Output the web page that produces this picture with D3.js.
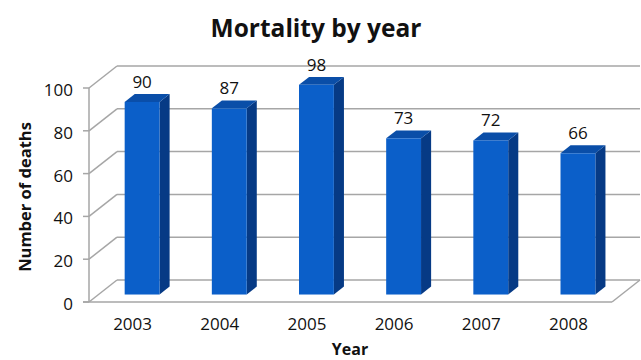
<!DOCTYPE html>
<html>
<head>
<meta charset="utf-8">
<script src="https://cdn.jsdelivr.net/npm/d3@7"></script>
<style>
  html, body { margin: 0; padding: 0; background: #fff; }
  svg { display: block; font-family: "Open Sans", "Noto Sans", sans-serif; }
</style>
</head>
<body>
<svg id="chart" width="641" height="360"></svg>
<script>
// Deaths recorded per year
const years = ["2003", "2004", "2005", "2006", "2007", "2008"];
const deaths = [90, 87, 98, 73, 72, 66];
const yTicks = [0, 20, 40, 60, 80, 100];

const svg = d3.select("#chart");

// Front plane of the 3-D box and the depth vector toward the back wall
const front = { left: 89, right: 612, top: 88, bottom: 302 };
const depth = { dx: 28, dy: -22 };
const barDepth = [0.34, 0.70];   // bar slab position within the box depth

const x = d3.scaleBand().domain(years).range([front.left, front.right]);
const y = d3.scaleLinear().domain([0, 100]).range([front.bottom, front.top]);
const proj = (px, py, d) => [px + d * depth.dx, py + d * depth.dy];

const grid = "#a6a6a6";
const walls = svg.append("g").attr("fill", "none").attr("stroke", grid).attr("stroke-width", 1.5);

// Side wall diagonals and back wall gridlines
yTicks.forEach(t => {
  const [bx, by] = proj(front.left, y(t), 1);
  walls.append("line").attr("x1", front.left).attr("y1", y(t)).attr("x2", bx).attr("y2", by);
  walls.append("line").attr("x1", bx).attr("y1", by).attr("x2", front.right + depth.dx).attr("y2", by);
  // tick mark on the front axis
  walls.append("line").attr("x1", front.left - 6).attr("y1", y(t)).attr("x2", front.left).attr("y2", y(t));
});
// Front vertical axis
walls.append("line").attr("x1", front.left).attr("y1", y(100)).attr("x2", front.left).attr("y2", y(0));
// Floor outline
{
  const [rx, ry] = proj(front.right, y(0), 1);
  walls.append("line").attr("x1", front.left - 6).attr("y1", y(0)).attr("x2", front.right).attr("y2", y(0));
  walls.append("line").attr("x1", front.right).attr("y1", y(0)).attr("x2", rx).attr("y2", ry);
}

// Y tick labels
svg.append("g").selectAll("text").data(yTicks).join("text")
  .attr("x", front.left - 16)
  .attr("y", d => y(d) + 8)
  .attr("text-anchor", "end")
  .attr("font-size", 17)
  .attr("fill", "#111")
  .text(d => d);

// X tick labels
svg.append("g").selectAll("text").data(years).join("text")
  .attr("x", d => x(d) + x.bandwidth() / 2)
  .attr("y", 330)
  .attr("text-anchor", "middle")
  .attr("font-size", 17)
  .attr("fill", "#111")
  .text(d => d);

// 3-D bars
const barW = x.bandwidth() * 0.4;
const colFront = "#0b5fc9", colSide = "#063a85", colTop = "#0a4ea8";
const bars = svg.append("g");
years.forEach((yr, i) => {
  const v = deaths[i];
  const cx = x(yr) + x.bandwidth() / 2;
  const [d0, d1] = barDepth;
  const fl = proj(cx - barW / 2, 0, d0)[0], fr = fl + barW;
  const fb = proj(0, y(0), d0)[1], ft = proj(0, y(v), d0)[1];
  const ddx = (d1 - d0) * depth.dx, ddy = (d1 - d0) * depth.dy;
  const g = bars.append("g");
  g.append("polygon").attr("fill", colSide)
    .attr("points", [[fr, ft], [fr + ddx, ft + ddy], [fr + ddx, fb + ddy], [fr, fb]].join(" "));
  g.append("polygon").attr("fill", colTop)
    .attr("points", [[fl, ft], [fl + ddx, ft + ddy], [fr + ddx, ft + ddy], [fr, ft]].join(" "));
  g.append("rect").attr("fill", colFront)
    .attr("x", fl).attr("y", ft).attr("width", barW).attr("height", fb - ft);
  g.append("text")
    .attr("x", (fl + fr) / 2)
    .attr("y", ft - 14)
    .attr("text-anchor", "middle")
    .attr("font-size", 17)
    .attr("fill", "#111")
    .text(v);
});

// Titles
svg.append("text")
  .attr("x", 316).attr("y", 37)
  .attr("text-anchor", "middle")
  .attr("font-size", 24.5).attr("font-weight", "bold")
  .attr("fill", "#111")
  .text("Mortality by year");

svg.append("text")
  .attr("transform", "translate(31,197) rotate(-90)")
  .attr("text-anchor", "middle")
  .attr("font-size", 16.5).attr("font-weight", "bold")
  .attr("fill", "#111")
  .text("Number of deaths");

svg.append("text")
  .attr("x", 350).attr("y", 355)
  .attr("text-anchor", "middle")
  .attr("font-size", 16).attr("font-weight", "bold")
  .attr("fill", "#111")
  .text("Year");
</script>
</body>
</html>
